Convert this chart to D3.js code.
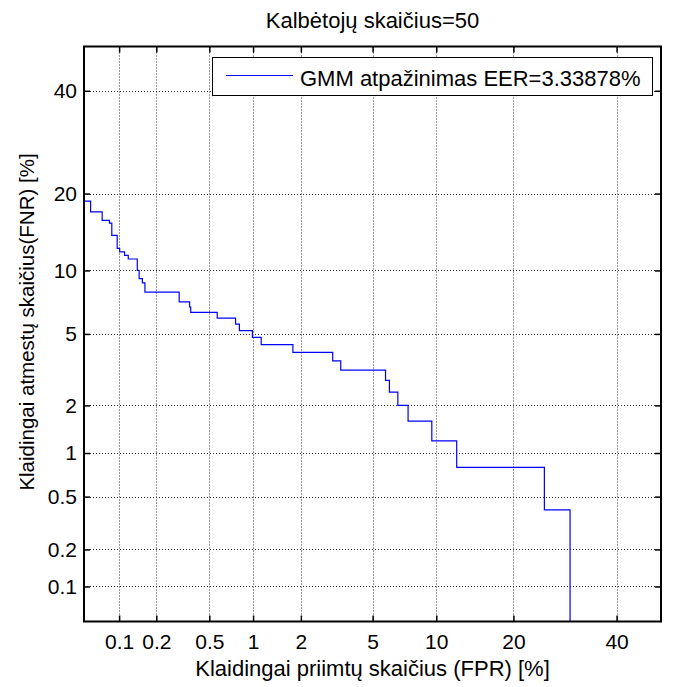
<!DOCTYPE html>
<html>
<head>
<meta charset="utf-8">
<script src="https://cdn.jsdelivr.net/npm/d3@7"></script>
<style>
  html, body { margin: 0; padding: 0; background: #fff; }
  svg { display: block; }
  text { font-family: Arial, "Liberation Sans", Helvetica, sans-serif; fill: #000; }
</style>
</head>
<body>
<svg id="chart" width="677" height="687"></svg>
<script>
// DET curve: false positive rate vs false negative rate (both in %),
// plotted on normal-deviate (probit) axes.
const titleText = "Kalbėtojų skaičius=50";
const xLabelText = "Klaidingai priimtų skaičius (FPR) [%]";
const yLabelText = "Klaidingai atmestų skaičius(FNR) [%]";
const legendText = "GMM atpažinimas EER=3.33878%";

// Axis limits and tick labels (percent)
const axisLimits = [0.05, 50];
const tickValues = [0.1, 0.2, 0.5, 1, 2, 5, 10, 20, 40];
const tickLabels = ["0.1", "0.2", "0.5", "1", "2", "5", "10", "20", "40"];

// Staircase corners: at each FPR the FNR drops to the listed value
const fprPct = [0.05, 0.0571, 0.0719, 0.083, 0.0868, 0.0963, 0.101, 0.111, 0.119,
                0.141, 0.146, 0.155, 0.1625, 0.300, 0.359, 0.366, 0.569, 0.763, 0.81,
                0.99, 1.13, 1.79, 3.06, 3.39, 5.81, 6.07, 6.67, 7.46, 9.56, 12.2, 25.3, 30.2];
const fnrPct = [18.8, 17.2, 16.0, 15.6, 14.0, 12.4, 12.0, 11.6, 11.2,
                10.0, 9.2, 8.8, 8.0, 7.2, 6.8, 6.4, 6.0, 5.6, 5.2,
                4.8, 4.4, 4.0, 3.6, 3.2, 2.8, 2.4, 2.0, 1.6, 1.2, 0.8, 0.4, 0];

// Inverse standard normal CDF (Acklam's rational approximation)
function probit(p) {
  const a = [-3.969683028665376e+01, 2.209460984245205e+02, -2.759285104469687e+02,
             1.383577518672690e+02, -3.066479806614716e+01, 2.506628277459239e+00];
  const b = [-5.447609879822406e+01, 1.615858368580409e+02, -1.556989798598866e+02,
             6.680131188771972e+01, -1.328068155288572e+01];
  const c = [-7.784894002430293e-03, -3.223964580411365e-01, -2.400758277161838e+00,
             -2.549732539343734e+00, 4.374664141464968e+00, 2.938163982698783e+00];
  const d = [7.784695709041462e-03, 3.224671290700398e-01, 2.445134137142996e+00,
             3.754408661907416e+00];
  const pl = 0.02425, ph = 1 - pl;
  let q, r;
  if (p < pl) {
    q = Math.sqrt(-2 * Math.log(p));
    return (((((c[0]*q+c[1])*q+c[2])*q+c[3])*q+c[4])*q+c[5]) /
           ((((d[0]*q+d[1])*q+d[2])*q+d[3])*q+1);
  }
  if (p <= ph) {
    q = p - 0.5; r = q * q;
    return (((((a[0]*r+a[1])*r+a[2])*r+a[3])*r+a[4])*r+a[5])*q /
           (((((b[0]*r+b[1])*r+b[2])*r+b[3])*r+b[4])*r+1);
  }
  q = Math.sqrt(-2 * Math.log(1 - p));
  return -(((((c[0]*q+c[1])*q+c[2])*q+c[3])*q+c[4])*q+c[5]) /
          ((((d[0]*q+d[1])*q+d[2])*q+d[3])*q+1);
}
const z = pct => probit(Math.min(Math.max(pct / 100, 1e-9), 1 - 1e-9));

const svg = d3.select("#chart");
const plot = { left: 84, right: 661, top: 46.5, bottom: 621.5 };

const x = d3.scaleLinear().domain(axisLimits.map(z)).range([plot.left, plot.right]).clamp(true);
const y = d3.scaleLinear().domain(axisLimits.map(z)).range([plot.bottom, plot.top]).clamp(true);
const zTicks = tickValues.map(z);

svg.append("rect").attr("width", 677).attr("height", 687).attr("fill", "#fff");

// Dotted grid
const grid = svg.append("g").attr("stroke", "#000").attr("stroke-width", 1)
  .attr("stroke-dasharray", "1,2").attr("opacity", 0.8);
grid.selectAll(".gx").data(zTicks).join("line")
  .attr("x1", d => Math.round(x(d)) + 0.5).attr("x2", d => Math.round(x(d)) + 0.5)
  .attr("y1", plot.top).attr("y2", plot.bottom);
grid.selectAll(".gy").data(zTicks).join("line")
  .attr("y1", d => Math.round(y(d)) + 0.5).attr("y2", d => Math.round(y(d)) + 0.5)
  .attr("x1", plot.left).attr("x2", plot.right);

// Curve, clipped to the axes box
svg.append("clipPath").attr("id", "clip").append("rect")
  .attr("x", plot.left).attr("y", plot.top)
  .attr("width", plot.right - plot.left).attr("height", plot.bottom - plot.top);

const pts = fprPct.map((f, i) => [f, fnrPct[i]]);
const line = d3.line()
  .x(d => x(z(d[0])))
  .y(d => y(z(d[1])))
  .curve(d3.curveStepAfter);
svg.append("path").datum(pts)
  .attr("clip-path", "url(#clip)")
  .attr("fill", "none").attr("stroke", "#0000ff").attr("stroke-width", 1.2)
  .attr("d", line);

// Axes: ticks point inward on all four sides, labels on left and bottom
const fmt = (d, i) => tickLabels[i];
const axisStyle = g => {
  g.select(".domain").remove();
  g.selectAll(".tick line").attr("stroke", "#000").attr("stroke-width", 1.5);
  g.selectAll("text").style("font-size", "21px")
    .style("font-family", "Arial, 'Liberation Sans', Helvetica, sans-serif");
};
svg.append("g").attr("transform", `translate(0,${plot.bottom})`)
  .call(d3.axisBottom(x).tickValues(zTicks).tickFormat(fmt).tickSizeInner(-6).tickSizeOuter(0).tickPadding(13))
  .call(axisStyle);
svg.append("g").attr("transform", `translate(0,${plot.top})`)
  .call(d3.axisTop(x).tickValues(zTicks).tickFormat("").tickSizeInner(-6).tickSizeOuter(0))
  .call(axisStyle);
svg.append("g").attr("transform", `translate(${plot.left},0)`)
  .call(d3.axisLeft(y).tickValues(zTicks).tickFormat(fmt).tickSizeInner(-6).tickSizeOuter(0).tickPadding(7))
  .call(axisStyle);
svg.append("g").attr("transform", `translate(${plot.right},0)`)
  .call(d3.axisRight(y).tickValues(zTicks).tickFormat("").tickSizeInner(-6).tickSizeOuter(0))
  .call(axisStyle);

// Axes box
svg.append("rect")
  .attr("x", plot.left).attr("y", plot.top)
  .attr("width", plot.right - plot.left).attr("height", plot.bottom - plot.top)
  .attr("fill", "none").attr("stroke", "#000").attr("stroke-width", 2);

// Legend
const lg = svg.append("g");
lg.append("rect").attr("x", 212.5).attr("y", 57.5).attr("width", 440).attr("height", 38)
  .attr("fill", "#fff").attr("stroke", "#000").attr("stroke-width", 1);
lg.append("line").attr("x1", 226).attr("x2", 293).attr("y1", 75.5).attr("y2", 75.5)
  .attr("stroke", "#0000ff").attr("stroke-width", 1);
lg.append("text").attr("x", 300).attr("y", 86).style("font-size", "22px").text(legendText);

// Title and axis labels
const cx = (plot.left + plot.right) / 2;
svg.append("text").attr("x", cx).attr("y", 28).attr("text-anchor", "middle")
  .style("font-size", "22px").text(titleText);
svg.append("text").attr("x", cx).attr("y", 676).attr("text-anchor", "middle")
  .style("font-size", "22px").text(xLabelText);
svg.append("text")
  .attr("transform", "translate(34,322) rotate(-90)")
  .attr("text-anchor", "middle").style("font-size", "20.5px").text(yLabelText);
</script>
</body>
</html>
